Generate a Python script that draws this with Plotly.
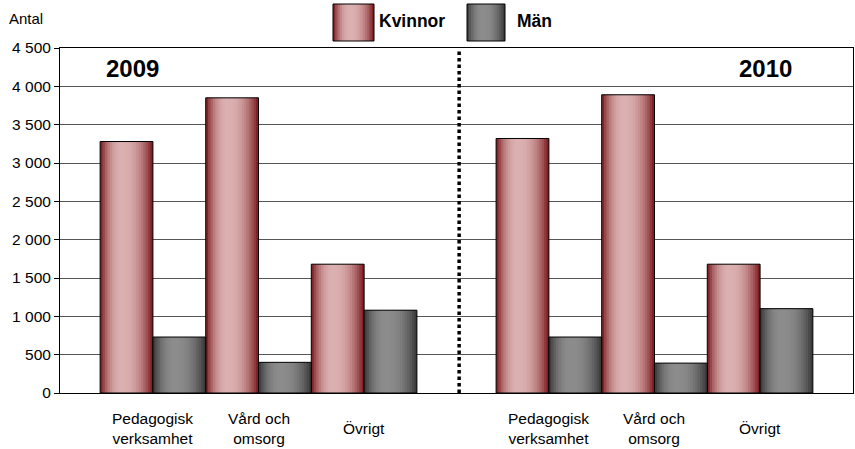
import plotly.graph_objects as go

# ---------------- data ----------------
categories = ["Pedagogisk<br>verksamhet", "Vård och<br>omsorg", "Övrigt"]
years = ["2009", "2010"]
kvinnor_2009 = [3280, 3850, 1680]
man_2009 = [730, 400, 1080]
kvinnor_2010 = [3320, 3890, 1680]
man_2010 = [730, 390, 1100]
series_names = ["Kvinnor", "Män"]
y_ticks = [0, 500, 1000, 1500, 2000, 2500, 3000, 3500, 4000, 4500]

# ---------------- layout constants ----------------
W, H = 855, 449
ML, MR, MT, MB = 60, 2, 48, 56
PW, PH = W - ML - MR, H - MT - MB
FONT = "Arial, Liberation Sans, Helvetica, sans-serif"
YEAR_OFFSET = 3.75          # distance between the 2009 and 2010 groups
BAR_W = 0.5
N_STRIPES = 22

def xp(px):
    return (px - ML) / PW

def yp(py):
    return (H - MB - py) / PH

STYLES = {
    "Kvinnor": {"dark": (118, 18, 22), "light": (219, 176, 176), "start": -BAR_W},
    "Män": {"dark": (52, 52, 52), "light": (140, 140, 140), "start": 0.0},
}

def shade(name, t, peak=0.42, p=2.3):
    d = STYLES[name]["dark"]
    l = STYLES[name]["light"]
    u = (t - peak) / peak if t < peak else (t - peak) / (1 - peak)
    f = max(0.0, 1 - abs(u) ** p)
    c = [round(d[i] + f * (l[i] - d[i])) for i in range(3)]
    return "rgb(%d,%d,%d)" % tuple(c)

# positions
x_pos = []
for yi, _ in enumerate(years):
    for ci, _ in enumerate(categories):
        x_pos.append(yi * YEAR_OFFSET + ci)

values = {
    "Kvinnor": kvinnor_2009 + kvinnor_2010,
    "Män": man_2009 + man_2010,
}

fig = go.Figure()
sw = BAR_W / N_STRIPES
for name in series_names:
    st = STYLES[name]["start"]
    for k in range(N_STRIPES):
        t = (k + 0.5) / N_STRIPES
        w = sw * 1.6 if k < N_STRIPES - 1 else sw
        fig.add_trace(go.Bar(
            x=x_pos, y=values[name], offset=st + k * sw, width=w,
            marker=dict(color=shade(name, t), line=dict(width=0)),
            showlegend=False, hoverinfo="skip",
        ))
    fig.add_trace(go.Bar(
        x=x_pos, y=values[name], offset=st, width=BAR_W, name=name,
        marker=dict(color="rgba(0,0,0,0)", line=dict(color="black", width=1)),
        showlegend=False,
    ))

shapes = []
# dotted divider between years
shapes.append(dict(type="line", xref="x", yref="paper",
                   x0=2.9, x1=2.9, y0=0, y1=yp(50),
                   line=dict(color="black", width=3.5, dash="3.5px,3px")))

# legend boxes with gradient
legend_boxes = {"Kvinnor": (333, 374), "Män": (467, 505)}
box_top, box_bot = 4, 41
NL = 18
for name in series_names:
    x0, x1 = legend_boxes[name]
    bw = (x1 - x0) / NL
    for k in range(NL):
        t = (k + 0.5) / NL
        shapes.append(dict(type="rect", xref="paper", yref="paper",
                           x0=xp(x0 + k * bw), x1=xp(x0 + (k + 1.3) * bw if k < NL - 1 else x1),
                           y0=yp(box_bot), y1=yp(box_top),
                           line=dict(width=0), fillcolor=shade(name, t), layer="above"))
    shapes.append(dict(type="rect", xref="paper", yref="paper",
                       x0=xp(x0), x1=xp(x1), y0=yp(box_bot), y1=yp(box_top),
                       line=dict(color="black", width=1), fillcolor="rgba(0,0,0,0)",
                       layer="above"))

annotations = []
legend_text_x = {"Kvinnor": 377, "Män": 515}
for name in series_names:
    annotations.append(dict(text="<b>%s</b>" % name, xref="paper", yref="paper",
                            x=xp(legend_text_x[name]), y=yp(21), xanchor="left",
                            yanchor="middle", showarrow=False,
                            font=dict(family=FONT, size=17.5, color="black")))
# year labels
annotations.append(dict(text="<b>%s</b>" % years[0], xref="paper", yref="paper", x=xp(132), y=yp(68),
                        xanchor="center", yanchor="middle", showarrow=False,
                        font=dict(family=FONT, size=24, color="black")))
annotations.append(dict(text="<b>%s</b>" % years[1], xref="paper", yref="paper", x=xp(765), y=yp(68),
                        xanchor="center", yanchor="middle", showarrow=False,
                        font=dict(family=FONT, size=24, color="black")))
# axis title
annotations.append(dict(text="Antal", xref="paper", yref="paper", x=xp(7), y=yp(18),
                        xanchor="left", yanchor="middle", showarrow=False,
                        font=dict(family=FONT, size=15, color="black")))
# category labels
for i, xv in enumerate(x_pos):
    annotations.append(dict(text=categories[i % len(categories)], xref="x", yref="paper",
                            x=xv, y=yp(428), xanchor="center", yanchor="middle",
                            showarrow=False, align="center",
                            font=dict(family=FONT, size=15.5, color="black")))

fig.update_layout(
    width=W, height=H,
    margin=dict(l=ML, r=MR, t=MT, b=MB, pad=0),
    paper_bgcolor="white", plot_bgcolor="white",
    barmode="overlay",
    separators=", ",
    showlegend=False,
    font=dict(family=FONT, size=15.5, color="black"),
    shapes=shapes,
    annotations=annotations,
    xaxis=dict(range=[-0.88, YEAR_OFFSET + 2 + 0.88], showticklabels=False,
               showgrid=False, zeroline=False, ticks="",
               showline=True, linecolor="black", linewidth=1, mirror=True),
    yaxis=dict(range=[0, 4500], tickvals=y_ticks, tickformat=",d",
               showgrid=True, gridcolor="#555555", gridwidth=1, zeroline=False,
               ticks="outside", ticklen=5, tickcolor="black",
               showline=True, linecolor="black", linewidth=1, mirror=True,
               tickfont=dict(family=FONT, size=15.5, color="black")),
)

fig.write_html("out.html",
               config={"displayModeBar": False},
               post_script="document.body.style.margin='0px';document.body.style.padding='0px';document.body.style.overflow='hidden';")
